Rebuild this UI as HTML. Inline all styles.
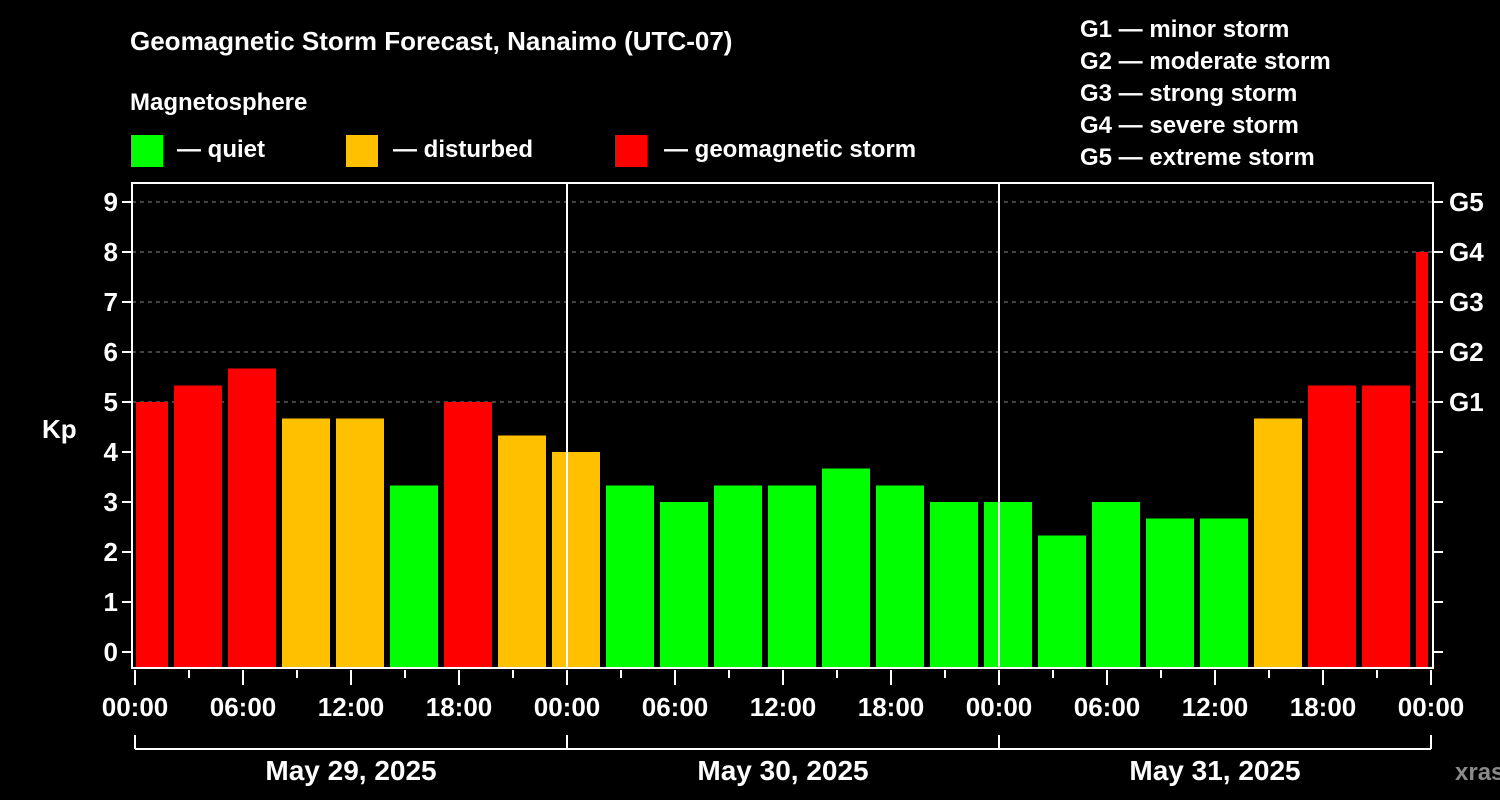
<!DOCTYPE html>
<html><head><meta charset="utf-8"><style>
html,body{margin:0;padding:0;background:#000;width:1500px;height:800px;overflow:hidden}
svg text{font-family:"Liberation Sans",Arial,sans-serif;font-weight:bold;fill:#fff}
</style></head><body>
<svg id="chart" width="1500" height="800" xmlns="http://www.w3.org/2000/svg">
<text x="130" y="50" font-size="26">Geomagnetic Storm Forecast, Nanaimo (UTC-07)</text>
<text x="130" y="110" font-size="24">Magnetosphere</text>
<g><rect x="131" y="135" width="32" height="32" fill="#00ff00"/><text x="177" y="157" font-size="24">— quiet</text></g>
<g><rect x="346" y="135" width="32" height="32" fill="#ffc000"/><text x="393" y="157" font-size="24">— disturbed</text></g>
<g><rect x="615" y="135" width="32" height="32" fill="#ff0000"/><text x="664" y="157" font-size="24">— geomagnetic storm</text></g>
<g font-size="24">
<text x="1080" y="37">G1 — minor storm</text>
<text x="1080" y="69">G2 — moderate storm</text>
<text x="1080" y="101">G3 — strong storm</text>
<text x="1080" y="133">G4 — severe storm</text>
<text x="1080" y="165">G5 — extreme storm</text>
</g>
<text x="42" y="438" font-size="26">Kp</text>
<text x="1455" y="780" font-size="24" fill="#888" style="fill:#8a8a8a">xras.ru</text>
<g id="plot"></g>
</svg>
<script>
const kpValues=[5.0,5.33,5.67,4.67,4.67,3.33,5.0,4.33,4.0,3.33,3.0,3.33,3.33,3.67,3.33,3.0,3.0,2.33,3.0,2.67,2.67,4.67,5.33,5.33,8.0];
const barStartHours=[-1,2,5,8,11,14,17,20,23,26,29,32,35,38,41,44,47,50,53,56,59,62,65,68,71];
const yTicks=[0,1,2,3,4,5,6,7,8,9];
const gLevels=[5,6,7,8,9];
const gLabels=["G1","G2","G3","G4","G5"];
const hourTicks=[0,3,6,9,12,15,18,21,24,27,30,33,36,39,42,45,48,51,54,57,60,63,66,69,72];
const hourLabels=["00:00","06:00","12:00","18:00","00:00","06:00","12:00","18:00","00:00","06:00","12:00","18:00","00:00"];
const dayLabels=["May 29, 2025","May 30, 2025","May 31, 2025"];

const X0=135,PXH=18,Y0=652,PXK=50,LEFT=132,RIGHT=1433,TOP=183,BOT=668;
const xs=h=>X0+h*PXH, ys=k=>Y0-k*PXK;
const NS="http://www.w3.org/2000/svg";
const g=document.getElementById('plot');
function mk(tag,attrs){const e=document.createElementNS(NS,tag);for(const k in attrs)e.setAttribute(k,attrs[k]);g.appendChild(e);return e;}
function col(v){return v>=5?"#ff0000":(v>=4?"#ffc000":"#00ff00");}
// grid
gLevels.forEach(k=>{const l=mk('line',{x1:LEFT,x2:RIGHT,y1:ys(k),y2:ys(k),stroke:'#888','stroke-dasharray':'4,4','stroke-width':1});

});
// bars
kpValues.forEach((v,i)=>{let x1=Math.max(xs(barStartHours[i])+3,LEFT+4),x2=Math.min(xs(barStartHours[i]+3)-3,RIGHT-5);
const r=mk('rect',{x:x1,y:ys(v),width:x2-x1,height:BOT-ys(v),fill:col(v)});

});
// day separators
[24,48].forEach(h=>{const l=mk('line',{x1:xs(h),x2:xs(h),y1:TOP,y2:BOT,stroke:'#fff','stroke-width':2});

});
// frame
const f=mk('rect',{x:LEFT,y:TOP,width:RIGHT-LEFT,height:BOT-TOP,fill:'none',stroke:'#fff','stroke-width':2});


// y ticks
yTicks.forEach(k=>{mk('line',{x1:LEFT-10,x2:LEFT,y1:ys(k),y2:ys(k),stroke:'#fff','stroke-width':2});
mk('line',{x1:RIGHT,x2:RIGHT+10,y1:ys(k),y2:ys(k),stroke:'#fff','stroke-width':2});
const t=mk('text',{x:LEFT-14,y:ys(k)+9,'text-anchor':'end','font-size':26});t.textContent=k;

});
gLevels.forEach((k,i)=>{const t=mk('text',{x:1449,y:ys(k)+9,'font-size':26});t.textContent=gLabels[i];

});
// x ticks
hourTicks.forEach((h,i)=>{const long=h%6===0;mk('line',{x1:xs(h),x2:xs(h),y1:BOT+2,y2:BOT+(long?17:10),stroke:'#fff','stroke-width':2});});
hourLabels.forEach((s,i)=>{const t=mk('text',{x:xs(i*6),y:716,'text-anchor':'middle','font-size':26});t.textContent=s;

});
// day bracket
mk('line',{x1:xs(0),x2:xs(72),y1:749,y2:749,stroke:'#fff','stroke-width':2});
[0,24,48,72].forEach(h=>mk('line',{x1:xs(h),x2:xs(h),y1:735,y2:749,stroke:'#fff','stroke-width':2}));
dayLabels.forEach((s,i)=>{const t=mk('text',{x:xs(i*24+12),y:780,'text-anchor':'middle','font-size':28});t.textContent=s;

});
</script>
</body></html>
